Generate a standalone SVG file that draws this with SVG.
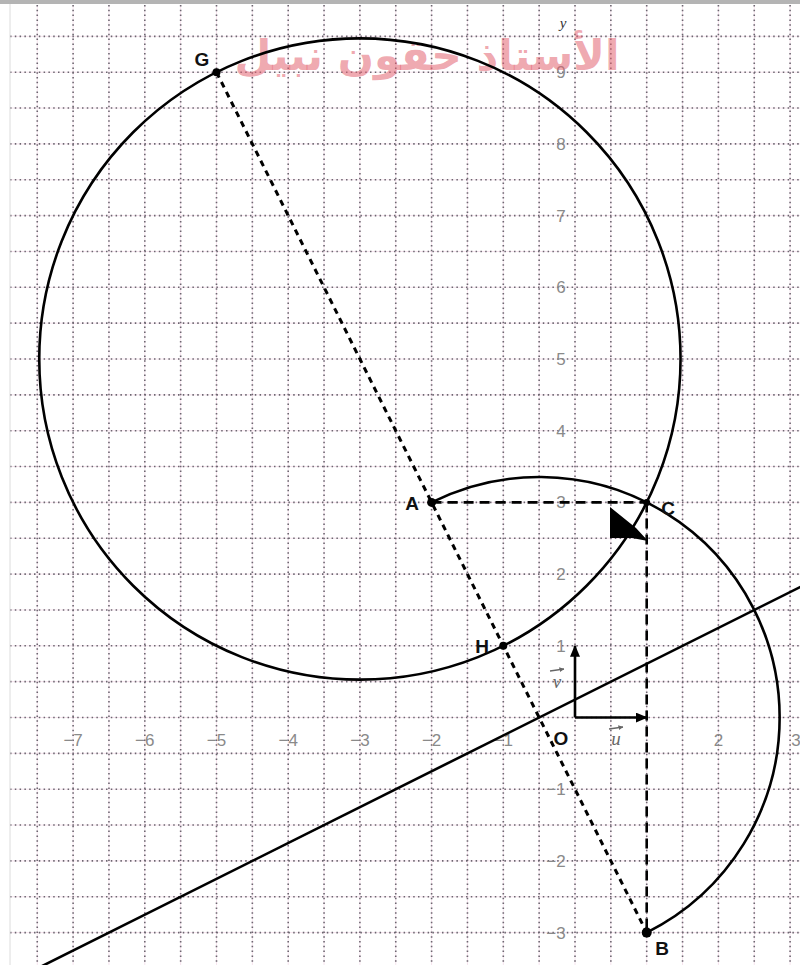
<svg xmlns="http://www.w3.org/2000/svg" width="800" height="965" viewBox="0 0 800 965">
<style>
.gridp{fill:none;stroke:#f6e4ee;stroke-width:1}
.gridd{fill:none;stroke:#6c6670;stroke-width:1.6;stroke-dasharray:1.5 3.3}
.curve{fill:none;stroke:#000;stroke-width:2.6}
.dash1{fill:none;stroke:#000;stroke-width:3;stroke-dasharray:6 5}
.dash2{fill:none;stroke:#000;stroke-width:2.6;stroke-dasharray:10 6}
.num{font-family:"Liberation Sans",Arial,sans-serif;font-size:17px;fill:#8a8a8a;text-anchor:middle}
.lbl{font-family:"Liberation Sans",Arial,sans-serif;font-size:19px;font-weight:bold;fill:#111;text-anchor:middle}
.vec{font-family:"Liberation Serif","Times New Roman",serif;font-size:19px;font-style:italic;fill:#666;text-anchor:middle}
.pt{fill:#000}
</style>
<defs>
<marker id="arr" viewBox="0 0 12 10" refX="11" refY="5" markerWidth="12" markerHeight="10" markerUnits="userSpaceOnUse" orient="auto">
<path d="M0,0 L12,5 L0,10 Z" fill="#000"/>
</marker>
<marker id="sarr" viewBox="0 0 6 6" refX="5.5" refY="3" markerWidth="5" markerHeight="5" markerUnits="userSpaceOnUse" orient="auto">
<path d="M0,0 L6,3 L0,6 Z" fill="#666"/>
</marker>
</defs>
<rect x="0" y="0" width="800" height="965" fill="#fff"/>
<g id="grid">
<path class="gridp" d="M37.25 5V965M73.1 5V965M108.95 5V965M144.8 5V965M180.65 5V965M216.5 5V965M252.35 5V965M288.2 5V965M324.05 5V965M359.9 5V965M395.75 5V965M431.6 5V965M467.45 5V965M503.3 5V965M539.15 5V965M575 5V965M610.85 5V965M646.7 5V965M682.55 5V965M718.4 5V965M754.25 5V965M790.1 5V965"/>
<path class="gridp" d="M10 36.35H800M10 72.2H800M10 108.05H800M10 143.9H800M10 179.75H800M10 215.6H800M10 251.45H800M10 287.3H800M10 323.15H800M10 359H800M10 394.85H800M10 430.7H800M10 466.55H800M10 502.4H800M10 538.25H800M10 574.1H800M10 609.95H800M10 645.8H800M10 681.65H800M10 717.5H800M10 753.35H800M10 789.2H800M10 825.05H800M10 860.9H800M10 896.75H800M10 932.6H800"/>
<path class="gridd" d="M37.25 5V965M73.1 5V965M108.95 5V965M144.8 5V965M180.65 5V965M216.5 5V965M252.35 5V965M288.2 5V965M324.05 5V965M359.9 5V965M395.75 5V965M431.6 5V965M467.45 5V965M503.3 5V965M539.15 5V965M575 5V965M610.85 5V965M646.7 5V965M682.55 5V965M718.4 5V965M754.25 5V965M790.1 5V965"/>
<path class="gridd" d="M10 36.35H800M10 72.2H800M10 108.05H800M10 143.9H800M10 179.75H800M10 215.6H800M10 251.45H800M10 287.3H800M10 323.15H800M10 359H800M10 394.85H800M10 430.7H800M10 466.55H800M10 502.4H800M10 538.25H800M10 574.1H800M10 609.95H800M10 645.8H800M10 681.65H800M10 717.5H800M10 753.35H800M10 789.2H800M10 825.05H800M10 860.9H800M10 896.75H800M10 932.6H800"/>
<rect x="0" y="0" width="800" height="4" fill="#b4b4b4"/>
<line x1="10" y1="4" x2="10" y2="965" stroke="#dcdcdc" stroke-width="1"/>
</g>
<g id="axis-labels">
<text class="num" x="73.1" y="746">−7</text>
<text class="num" x="144.8" y="746">−6</text>
<text class="num" x="216.5" y="746">−5</text>
<text class="num" x="288.2" y="746">−4</text>
<text class="num" x="359.9" y="746">−3</text>
<text class="num" x="431.6" y="746">−2</text>
<text class="num" x="503.3" y="746">−1</text>
<text class="num" x="718.4" y="746">2</text>
<text class="num" x="796" y="746">3</text>
<text class="num" x="561" y="652">1</text>
<text class="num" x="561" y="580">2</text>
<text class="num" x="561" y="508">3</text>
<text class="num" x="561" y="437">4</text>
<text class="num" x="561" y="365">5</text>
<text class="num" x="561" y="293">6</text>
<text class="num" x="561" y="222">7</text>
<text class="num" x="561" y="150">8</text>
<text class="num" x="561" y="78">9</text>
<text class="num" x="556" y="795">−1</text>
<text class="num" x="556" y="867">−2</text>
<text class="num" x="556" y="939">−3</text>
<text x="563" y="28" font-family="Liberation Serif,serif" font-style="italic" font-size="15" fill="#333" text-anchor="middle">y</text>
</g>
<g id="watermark">
<text x="427" y="70" font-family="DejaVu Sans,sans-serif" font-weight="bold" font-size="42" fill="#e2606e" fill-opacity="0.55" text-anchor="middle" direction="rtl" textLength="385" lengthAdjust="spacingAndGlyphs">الأستاذ حقون نبيل</text>
</g>
<g id="connectors">
<line id="line-GB" class="dash1" x1="216.5" y1="72.2" x2="646.7" y2="932.6"/>
<line id="line-AC" class="dash2" x1="431.6" y1="502.4" x2="646.7" y2="502.4"/>
<line id="line-CB" class="dash2" x1="646.7" y1="502.4" x2="646.7" y2="932.6"/>
<line id="line-d" class="curve" x1="37.25" y1="968.45" x2="826" y2="574.1"/>
<line id="vec-u" x1="575" y1="717.5" x2="646.7" y2="717.5" stroke="#000" stroke-width="2.6" marker-end="url(#arr)"/>
<line id="vec-v" x1="575" y1="717.5" x2="575" y2="645.8" stroke="#000" stroke-width="2.6" marker-end="url(#arr)"/>
</g>
<g id="circle-big">
<circle class="curve" cx="359.9" cy="359" r="320.65"/>
</g>
<g id="semicircle-AB">
<path class="curve" d="M431.6,502.4 A240.49,240.49 0 0 1 779.64,717.5 A240.49,240.49 0 0 1 646.7,932.6"/>
</g>
<g id="right-angle">
<polygon points="610,507 610,538 632,538 648,541 636,528" fill="#000"/>
</g>
<g id="vector-labels">
<text class="vec" x="557" y="688">v</text>
<line x1="550" y1="671" x2="564" y2="669" stroke="#666" stroke-width="1.3" marker-end="url(#sarr)"/>
<text class="vec" x="616" y="745">u</text>
<line x1="609" y1="729" x2="623" y2="727" stroke="#666" stroke-width="1.3" marker-end="url(#sarr)"/>
</g>
<g id="G"><circle class="pt" cx="216.5" cy="72.2" r="4"/><text class="lbl" x="202" y="66">G</text></g>
<g id="A"><circle class="pt" cx="431.6" cy="502.4" r="4.5"/><text class="lbl" x="412" y="510">A</text></g>
<g id="C"><circle class="pt" cx="646.7" cy="502.4" r="3.5"/><text class="lbl" x="668" y="515">C</text></g>
<g id="H"><circle class="pt" cx="503.3" cy="645.8" r="4"/><text class="lbl" x="482" y="653">H</text></g>
<g id="B"><circle class="pt" cx="646.7" cy="932.6" r="5"/><text class="lbl" x="662" y="955">B</text></g>
<g id="O"><text class="lbl" x="561" y="745">O</text></g>
</svg>
